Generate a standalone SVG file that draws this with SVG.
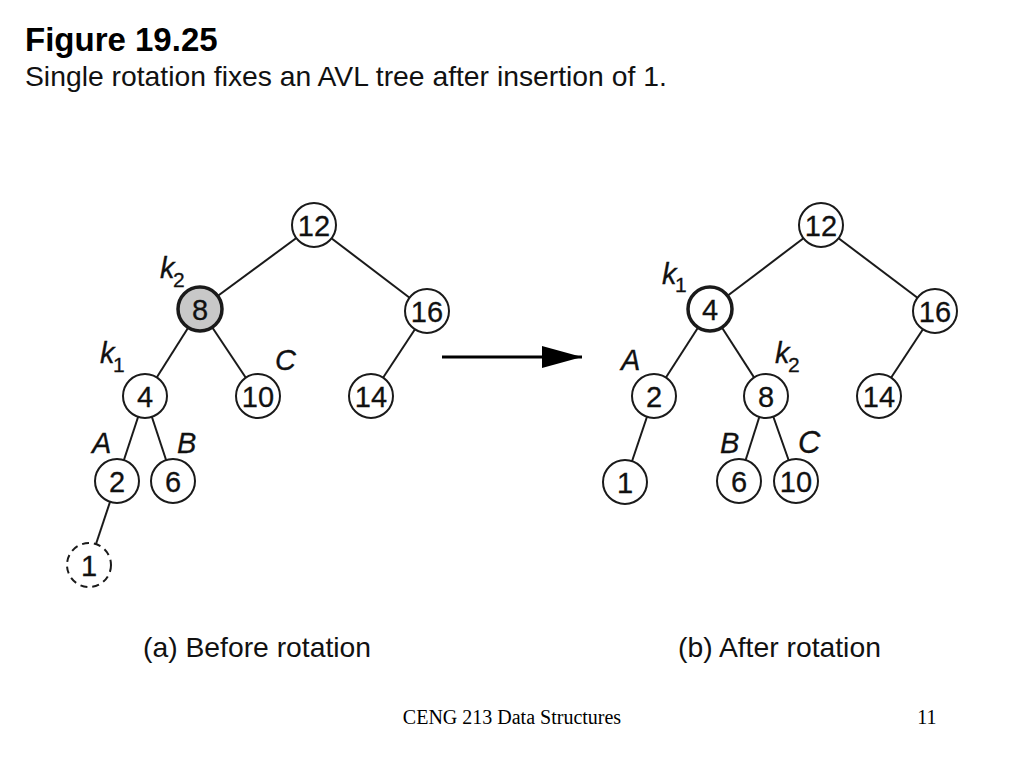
<svg xmlns="http://www.w3.org/2000/svg" width="1024" height="768" viewBox="0 0 1024 768">
<defs>
<style>
.edge{stroke:#1a1a1a;stroke-width:2;fill:none}
.node circle{fill:#fff;stroke:#1a1a1a;stroke-width:2}
.node text{font-family:"Liberation Sans",Arial,sans-serif;font-size:29px;fill:#111;stroke:#111;stroke-width:0.3;text-anchor:middle}
.lbl{font-family:"Liberation Sans",Arial,sans-serif;font-size:29px;font-style:italic;fill:#111;stroke:#111;stroke-width:0.3}
.sub{font-size:21px;font-style:normal}
.cap{font-family:"Liberation Sans",Arial,sans-serif;font-size:28.3px;fill:#111}
.foot{font-family:"Liberation Serif","Times New Roman",serif;font-size:20px;fill:#000}
</style>
<marker id="ah" viewBox="0 0 40 22" refX="40" refY="11" markerWidth="40" markerHeight="22" markerUnits="userSpaceOnUse" orient="auto">
<path d="M0,0 L40,11 L0,22 Z" fill="#000"/>
</marker>
</defs>
<rect width="1024" height="768" fill="#fff"/>
<text x="25" y="51" font-family="Liberation Sans,Arial,sans-serif" font-size="33" font-weight="bold" fill="#000">Figure 19.25</text>
<text x="25" y="86" class="cap">Single rotation fixes an AVL tree after insertion of 1.</text>

<g id="connectors">
<line class="edge" x1="314" y1="225" x2="200" y2="309"/>
<line class="edge" x1="314" y1="225" x2="427" y2="311"/>
<line class="edge" x1="200" y1="309" x2="145" y2="396"/>
<line class="edge" x1="200" y1="309" x2="258" y2="396"/>
<line class="edge" x1="427" y1="311" x2="371" y2="396"/>
<line class="edge" x1="145" y1="396" x2="117" y2="481"/>
<line class="edge" x1="145" y1="396" x2="173" y2="481"/>
<line class="edge" x1="117" y1="481" x2="89" y2="565"/>
<line class="edge" x1="821" y1="225" x2="710" y2="309"/>
<line class="edge" x1="821" y1="225" x2="935" y2="311"/>
<line class="edge" x1="710" y1="309" x2="654" y2="396"/>
<line class="edge" x1="710" y1="309" x2="766" y2="396"/>
<line class="edge" x1="935" y1="311" x2="879" y2="396"/>
<line class="edge" x1="654" y1="396" x2="625" y2="482"/>
<line class="edge" x1="766" y1="396" x2="739" y2="481"/>
<line class="edge" x1="766" y1="396" x2="796" y2="481"/>
<line x1="442" y1="357" x2="582" y2="357" stroke="#000" stroke-width="3" marker-end="url(#ah)"/>
</g>

<g id="a-n12" class="node"><circle cx="314" cy="225" r="22"/><text x="314" y="235.5">12</text></g>
<g id="a-n8" class="node"><circle cx="200" cy="309" r="22" style="fill:#c8c8c8;stroke-width:3.5"/><text x="200" y="319.5">8</text></g>
<g id="a-n16" class="node"><circle cx="427" cy="311" r="22"/><text x="427" y="321.5">16</text></g>
<g id="a-n4" class="node"><circle cx="145" cy="396" r="22"/><text x="145" y="406.5">4</text></g>
<g id="a-n10" class="node"><circle cx="258" cy="396" r="22"/><text x="258" y="406.5">10</text></g>
<g id="a-n14" class="node"><circle cx="371" cy="396" r="22"/><text x="371" y="406.5">14</text></g>
<g id="a-n2" class="node"><circle cx="117" cy="481" r="22"/><text x="117" y="491.5">2</text></g>
<g id="a-n6" class="node"><circle cx="173" cy="481" r="22"/><text x="173" y="491.5">6</text></g>
<g id="a-n1" class="node"><circle cx="89" cy="565" r="22" style="stroke-dasharray:7 5"/><text x="89" y="575.5">1</text></g>

<g id="b-n12" class="node"><circle cx="821" cy="225" r="22"/><text x="821" y="235.5">12</text></g>
<g id="b-n4" class="node"><circle cx="710" cy="309" r="22" style="stroke-width:3.5"/><text x="710" y="319.5">4</text></g>
<g id="b-n16" class="node"><circle cx="935" cy="311" r="22"/><text x="935" y="321.5">16</text></g>
<g id="b-n2" class="node"><circle cx="654" cy="396" r="22"/><text x="654" y="406.5">2</text></g>
<g id="b-n8" class="node"><circle cx="766" cy="396" r="22"/><text x="766" y="406.5">8</text></g>
<g id="b-n14" class="node"><circle cx="879" cy="396" r="22"/><text x="879" y="406.5">14</text></g>
<g id="b-n1" class="node"><circle cx="625" cy="482" r="22"/><text x="625" y="492.5">1</text></g>
<g id="b-n6" class="node"><circle cx="739" cy="481" r="22"/><text x="739" y="491.5">6</text></g>
<g id="b-n10" class="node"><circle cx="796" cy="481" r="22"/><text x="796" y="491.5">10</text></g>

<g id="labels">
<text class="lbl" x="160" y="278">k<tspan class="sub" x="173" y="287">2</tspan></text>
<text class="lbl" x="100" y="363">k<tspan class="sub" x="113" y="372">1</tspan></text>
<text class="lbl" x="275" y="370">C</text>
<text class="lbl" x="92" y="453">A</text>
<text class="lbl" x="177" y="453">B</text>
<text class="lbl" x="662" y="284">k<tspan class="sub" x="675" y="292">1</tspan></text>
<text class="lbl" x="621" y="370">A</text>
<text class="lbl" x="775" y="363">k<tspan class="sub" x="788" y="372">2</tspan></text>
<text class="lbl" x="720" y="453">B</text>
<text class="lbl" x="798" y="453" style="font-size:31px">C</text>
</g>

<text x="143" y="657" class="cap">(a) Before rotation</text>
<text x="678" y="657" class="cap">(b) After rotation</text>
<text x="512" y="724" class="foot" text-anchor="middle">CENG 213 Data Structures</text>
<text x="927" y="724" class="foot" text-anchor="middle">11</text>
</svg>
